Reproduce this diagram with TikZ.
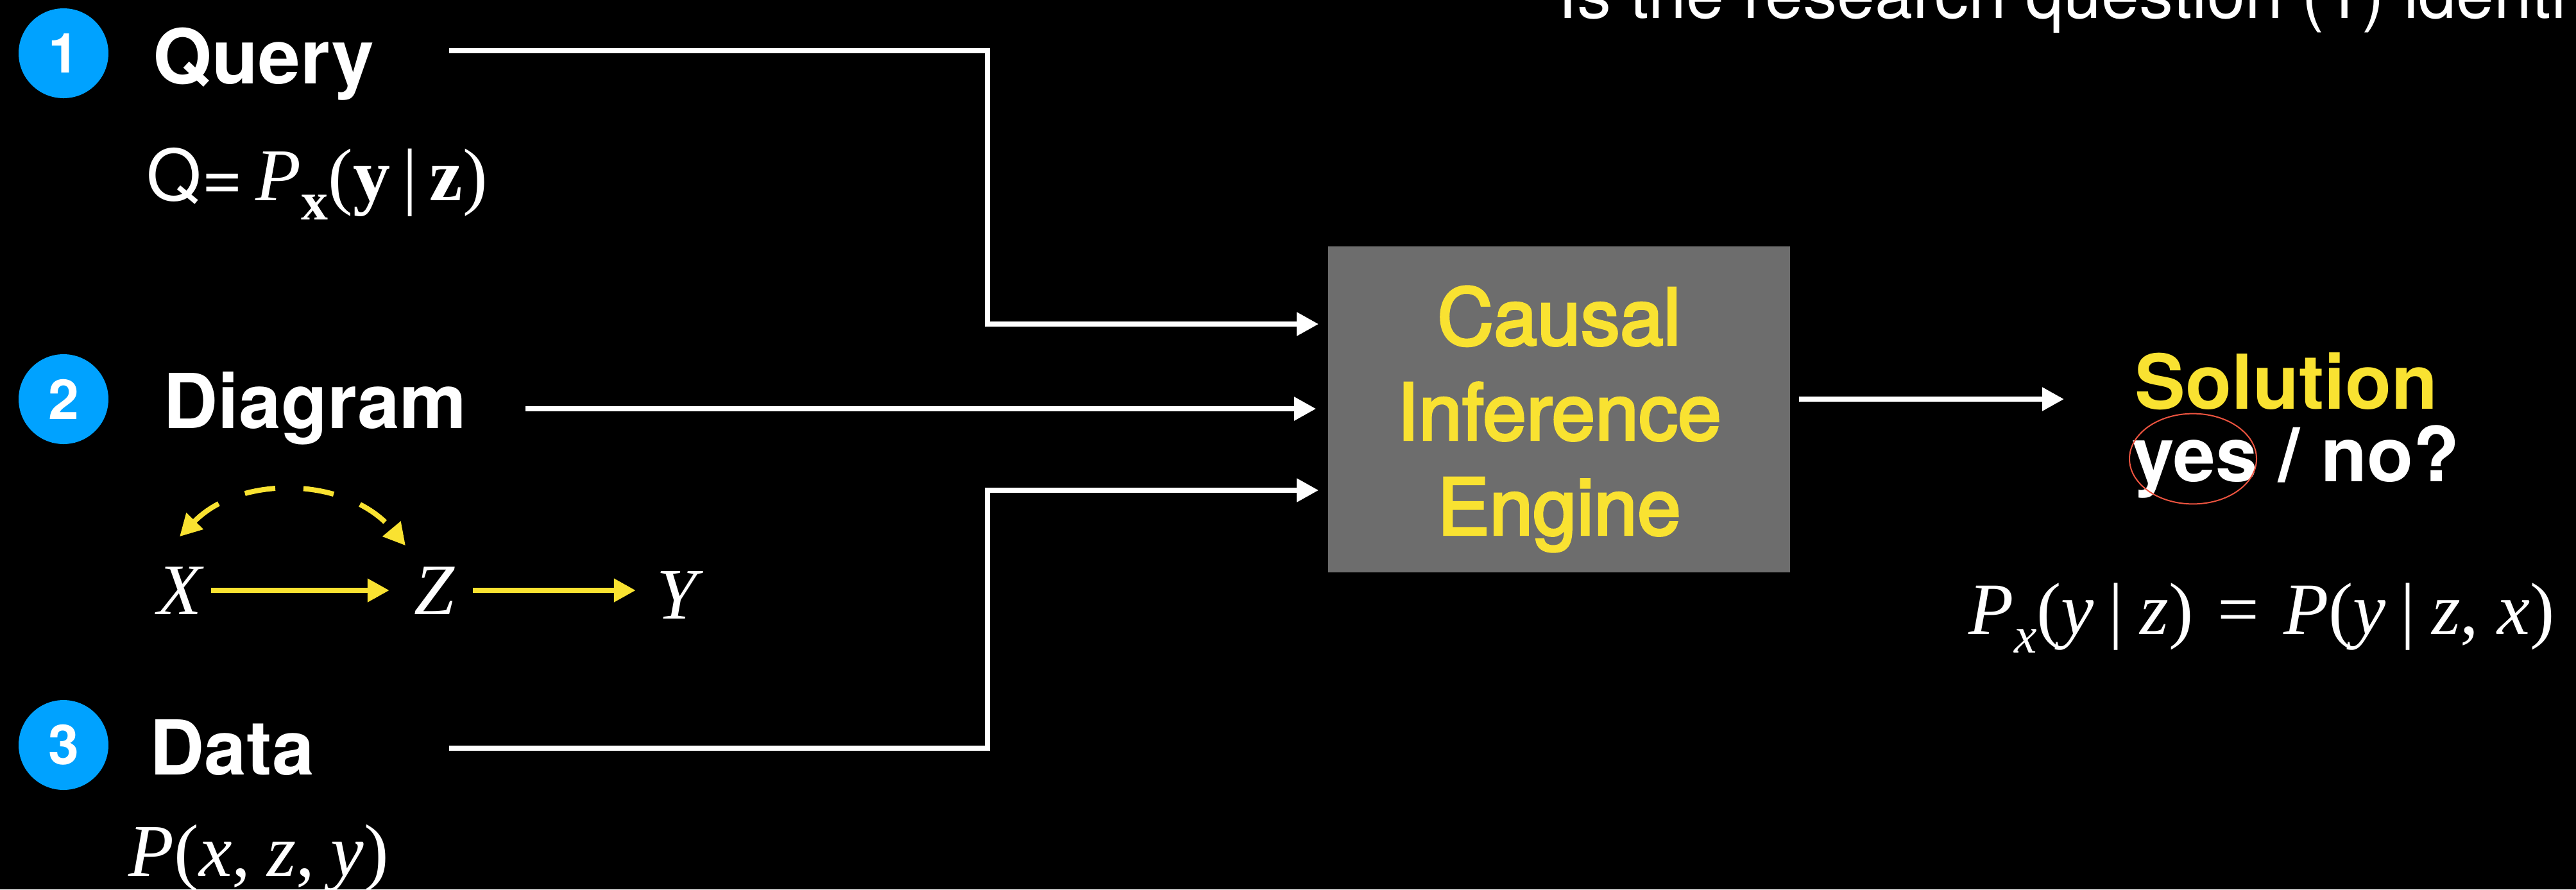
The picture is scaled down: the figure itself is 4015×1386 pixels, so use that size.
\documentclass[tikz,border=0pt]{standalone}
\usepackage{fontspec}
\setmainfont{TeX Gyre Heros}
\newfontfamily\timesfont{Liberation Serif}
\newfontfamily\enginefont{TeX Gyre Heros}[FakeBold=3]
\usetikzlibrary{arrows.meta}
\definecolor{numblue}{RGB}{0,162,255}
\definecolor{hlyellow}{RGB}{249,226,49}
\definecolor{boxgray}{RGB}{109,109,109}
\definecolor{ringred}{RGB}{238,84,64}
\newcommand\setsz[2]{\fontsize{#1pt}{#2pt}\selectfont}
\newcommand\given{\hspace{0.2em}|\hspace{0.22em}}

\begin{document}
\begin{tikzpicture}[x=0.25pt,y=-0.25pt,
    wire/.style={draw=white,line width=2pt,-{Triangle[length=8.5pt,width=8.75pt]}},
    link/.style={draw=hlyellow,line width=2pt,-{Triangle[length=8.5pt,width=8.75pt,fill=hlyellow]}},
    latent/.style={draw=hlyellow,line width=2pt,dash pattern=on 12pt off 11pt,
      {Triangle[length=8.5pt,width=8.75pt]}-{Triangle[length=8.5pt,width=8.75pt]}},
    num/.style={circle,fill=numblue,minimum size=35pt,inner sep=0pt,text=white,font=\bfseries\setsz{21.5}{26}},
    head/.style={anchor=base west,inner sep=0pt,text=white,font=\bfseries\setsz{29.5}{35}},
    formula/.style={anchor=base west,inner sep=0pt,text=white,font=\timesfont\setsz{29}{35}},
    var/.style={anchor=base,inner sep=0pt,text=white,font=\timesfont\itshape\setsz{28.25}{34}},
    engine/.style={fill=boxgray,minimum width=180pt,minimum height=127pt,inner sep=0pt}]

  \fill[black] (0,0) rectangle (4015,1386);
  \useasboundingbox (0,0) rectangle (4015,1386);

  \node[anchor=base west,inner sep=0pt,text=white,font=\setsz{26.5}{32}] (question) at (2428,28) {Is the research question (1) identi};

  \node[num] (n1) at (99,83) {1};
  \node[num] (n2) at (99,622) {2};
  \node[num] (n3) at (99,1161) {3};
  \node[head] (query) at (238,130) {Query};
  \node[head] (diagram) at (254,667) {Diagram};
  \node[head] (data) at (233,1207) {Data};

  \node[formula] (qform) at (228,312) {{\rmfamily\setsz{27.5}{33}Q=}\hspace{5pt}\textit{P}\raisebox{-7.5pt}{\setsz{21}{25}\textbf{x}}(\textbf{y}\,|\,\textbf{z})};

  \node[var] (vx) at (280,957) {X};
  \node[var] (vz) at (677,957) {Z};
  \node[var] (vy) at (1055,964) {Y};
  \draw[link,shorten <=3.5pt,shorten >=9.5pt] (vx) -- (vz);
  \draw[link,shorten <=7pt,shorten >=8pt] (vz) -- (vz -| vy.west);
  \draw[latent] ([yshift=11.5pt]vx.north) to[bend left=48] ([shift={(-11.25pt,8pt)}]vz.north);

  \node[formula] (pdata) at (200,1365) {\textit{P}(\textit{x},\hspace{0.22em}\textit{z},\hspace{0.22em}\textit{y})};

  \node[engine] (engine) at (2430,638) {};
  \node[align=center,inner sep=0pt,text=hlyellow,font=\enginefont\setsz{30.5}{37}] (engine-label) at (2430,653) {Causal\\Inference\\Engine};

  \node[head,text=hlyellow] (solution) at (3327,637) {Solution};
  \node[head] (answer) at (3323,750) {yes / no?};
  \draw[ringred,line width=0.5pt] (3418,715) ellipse [x radius=24.75pt,y radius=17.6pt];

  \node[formula,font=\timesfont\setsz{28.75}{34}] (result) at (3068,988) {\textit{P}\raisebox{-7.25pt}{\setsz{20}{24}\textit{x}}(\textit{y}\given\textit{z})\hspace{0.33em}=\hspace{0.33em}\textit{P}(\textit{y}\given\textit{z},\hspace{0.25em}\textit{x})};

  \coordinate (qs) at (700,79);
  \coordinate (qbend) at (1539,505);
  \coordinate (gs) at (819,637);
  \coordinate (ds) at (700,1166);
  \coordinate (dbend) at (1539,764);
  \coordinate (outtip) at (3217,622);
  \draw[wire,shorten >=3.5pt] (qs) -| (qbend) -- (engine.west |- qbend);
  \draw[wire,shorten >=4.5pt] (gs) -- (engine.west |- gs);
  \draw[wire,shorten >=3.5pt] (ds) -| (dbend) -- (engine.west |- dbend);
  \draw[wire] ([xshift=3.25pt]engine.east |- outtip) -- (outtip);
\end{tikzpicture}
\end{document}
